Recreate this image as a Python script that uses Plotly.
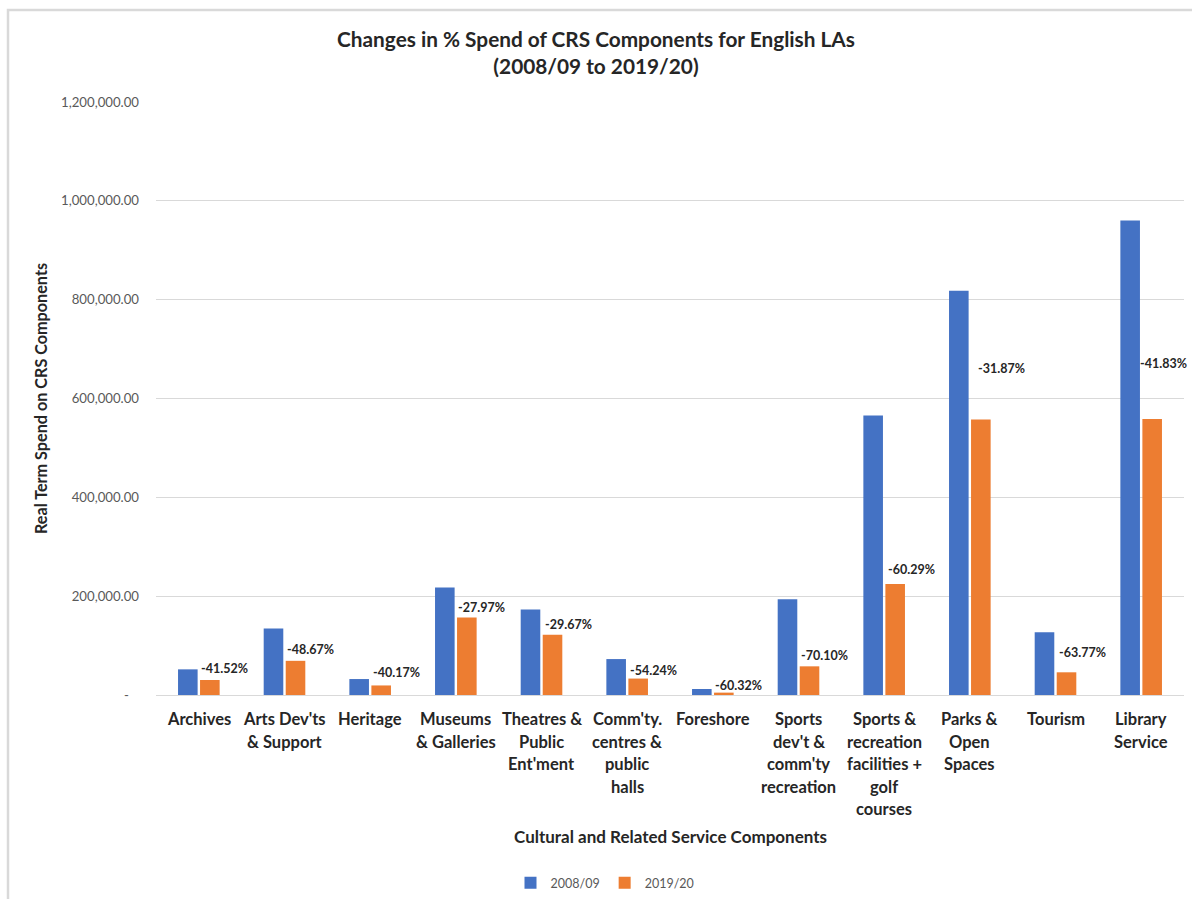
import plotly.graph_objects as go

# Cultural and Related Service components (line breaks as shown under the axis)
categories = [
    "Archives",
    "Arts Dev'ts\n& Support",
    "Heritage",
    "Museums\n& Galleries",
    "Theatres &\nPublic\nEnt'ment",
    "Comm'ty.\ncentres &\npublic\nhalls",
    "Foreshore",
    "Sports\ndev't &\ncomm'ty\nrecreation",
    "Sports &\nrecreation\nfacilities +\ngolf\ncourses",
    "Parks &\nOpen\nSpaces",
    "Tourism",
    "Library\nService",
]

# Real term spend (£000s) per component
spend_2008_09 = [51900, 134700, 32300, 217600, 173100, 72700, 12100, 194000, 565700, 818000, 126800, 960000]
spend_2019_20 = [30350, 69140, 19330, 156740, 121740, 33270, 4800, 58010, 224640, 557300, 45940, 558430]

# Percentage change between the two years
pct_change = [-41.52, -48.67, -40.17, -27.97, -29.67, -54.24, -60.32, -70.10, -60.29, -31.87, -63.77, -41.83]

y_ticks = [0, 200000, 400000, 600000, 800000, 1000000, 1200000]
y_tick_text = ["-\u00a0\u00a0\u00a0", "200,000.00", "400,000.00", "600,000.00",
               "800,000.00", "1,000,000.00", "1,200,000.00"]

series_names = ["2008/09", "2019/20"]
series_colors = ["#4472C4", "#ED7D31"]

FONT = "Lato, 'Open Sans', sans-serif"
W, H = 1192, 899
L, R, T, B = 156, 8, 102, 204
plot_h = H - T - B
plot_w = W - L - R

# placement of the change labels: pixel offsets from the top of the 2019/20 bar
label_dx = [26, 26, 26, 26, 27, 26, 26, 26, 27, 32, 27, 22]
label_dy = [12, 11, 13, 10, 10, 8, 7, 11, 14, 51, 20, 56]

fig = go.Figure()
for name, vals, col in zip(series_names, [spend_2008_09, spend_2019_20], series_colors):
    fig.add_trace(go.Bar(
        x=categories, y=vals, name=name,
        marker=dict(color=col, line=dict(width=0)),
        hoverinfo="x+y+name",
    ))

annotations = []
# change labels
for cat, v, p, dx, dy in zip(categories, spend_2019_20, pct_change, label_dx, label_dy):
    annotations.append(dict(
        x=cat, y=v, xref="x", yref="y", text=f"{p:.2f}%", showarrow=False,
        xshift=dx, yshift=dy, yanchor="middle", xanchor="center",
        font=dict(family=FONT, size=12.5, color="#262626", weight="bold"),
    ))

# category labels under the axis, one line at a time
for cat in categories:
    for i, line in enumerate(cat.split("\n")):
        annotations.append(dict(
            x=cat, y=0, xref="x", yref="paper", text=line, showarrow=False,
            yanchor="middle", xanchor="center", yshift=-(24 + i * 22.5),
            font=dict(family=FONT, size=16.5, color="#262626", weight="bold"),
        ))

def px_x(p):
    return (p - L) / plot_w

def px_y(p):
    return (H - B - p) / plot_h

# x axis title
annotations.append(dict(
    x=0.5, y=px_y(836), xref="paper", yref="paper",
    text="Cultural and Related Service Components", showarrow=False,
    xanchor="center", yanchor="middle",
    font=dict(family=FONT, size=17, color="#262626", weight="bold"),
))

# chart frame
shapes = [dict(
    type="rect", xref="paper", yref="paper",
    x0=px_x(8), x1=px_x(1215), y0=px_y(930), y1=px_y(10),
    line=dict(color="#d9d9d9", width=2.5), fillcolor="rgba(0,0,0,0)", layer="below",
)]

fig.update_layout(
    width=W, height=H,
    margin=dict(l=L, r=R, t=T, b=B, autoexpand=False),
    paper_bgcolor="white", plot_bgcolor="white",
    font=dict(family=FONT, color="#595959"),
    title=dict(
        text="Changes in % Spend of CRS Components for English LAs<br>(2008/09 to 2019/20)",
        x=0.5, xref="container", xanchor="center",
        y=1 - 47 / H, yref="container", yanchor="top",
        font=dict(family=FONT, size=20.8, color="#262626", weight="bold"),
    ),
    barmode="group", bargap=0.486, bargroupgap=0.11,
    xaxis=dict(
        type="category", range=[-0.5, len(categories) - 0.5],
        showticklabels=False, showgrid=False, showline=False, ticks="",
    ),
    yaxis=dict(
        range=[0, 1200000], tickvals=y_ticks, ticktext=y_tick_text,
        showgrid=True, gridcolor="#d9d9d9", gridwidth=1,
        zeroline=True, zerolinecolor="#d9d9d9", zerolinewidth=1,
        showline=False, ticks="", ticklabelstandoff=16,
        tickfont=dict(family=FONT, size=13.2, color="#595959"),
        title=dict(text="Real Term Spend on CRS Components", standoff=9,
                   font=dict(family=FONT, size=16.2, color="#262626", weight="bold")),
    ),
    legend=dict(
        orientation="h", x=px_x(605), xanchor="center",
        y=px_y(883), yanchor="middle",
        font=dict(family=FONT, size=12.5, color="#595959"),
        bgcolor="rgba(0,0,0,0)",
    ),
    annotations=annotations,
    shapes=shapes,
    showlegend=True,
)

fig.write_html("out.html")
